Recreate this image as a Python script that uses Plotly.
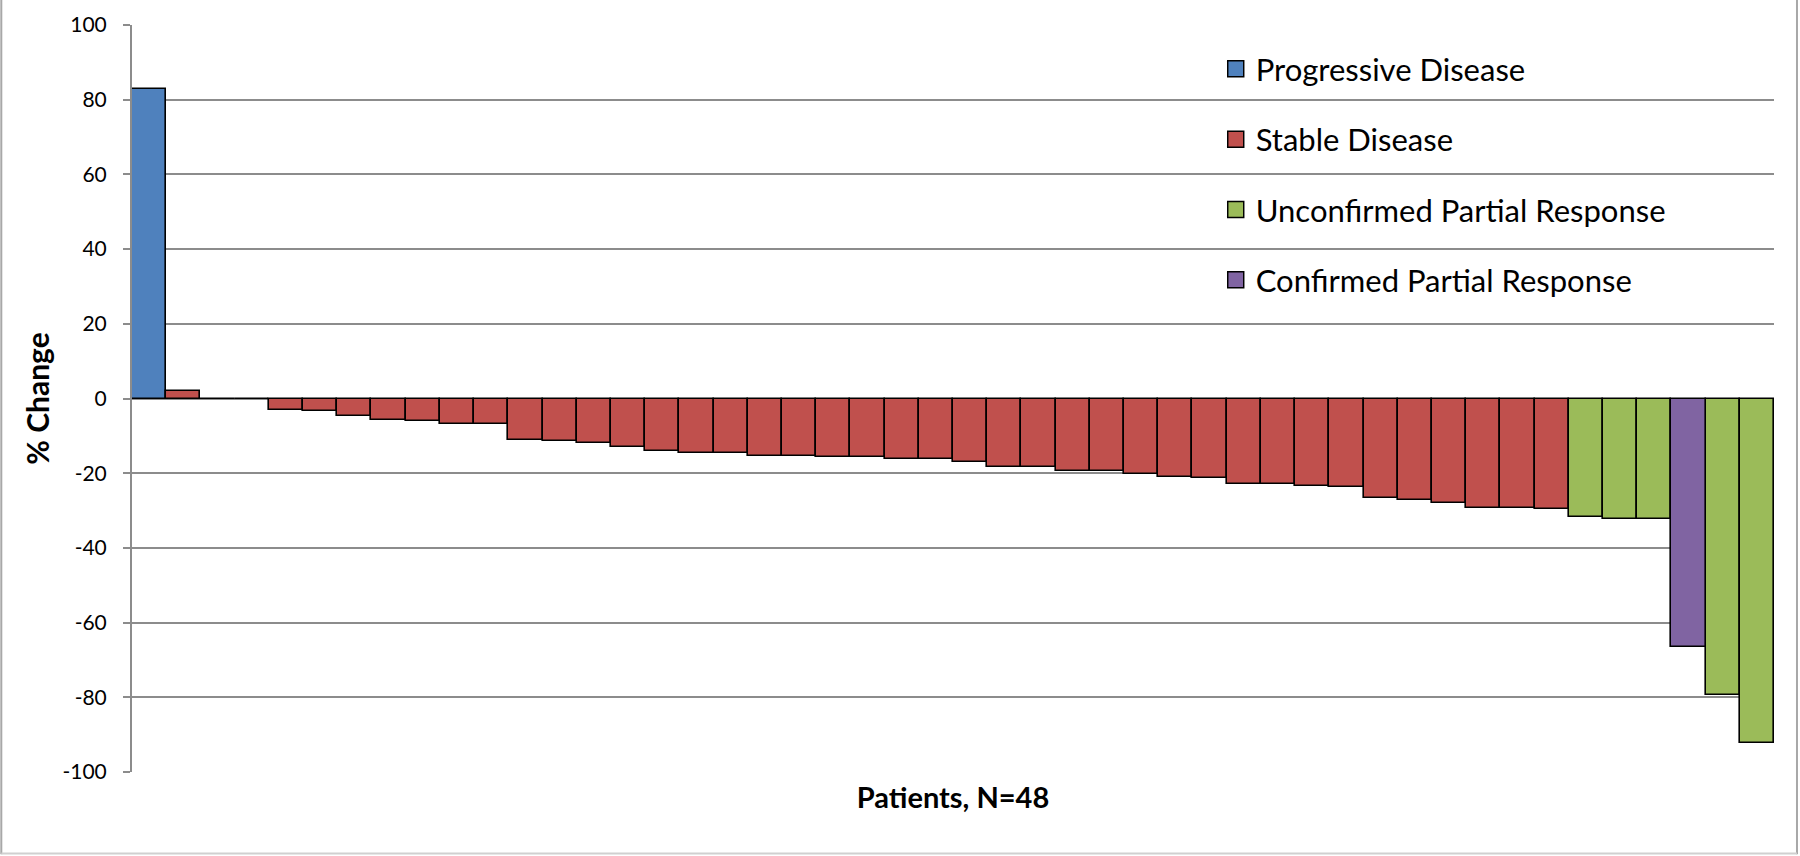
import plotly.graph_objects as go

# ---- data ----
patients = list(range(1, 49))
pct_change = [82.8, 2.0, 0.0, 0.0, -3.1, -3.4, -4.6, -5.7, -6.1, -6.8, -6.8,
              -11.1, -11.5, -11.8, -13.0, -14.0, -14.6, -14.6, -15.3, -15.3,
              -15.6, -15.6, -16.3, -16.3, -16.9, -18.4, -18.4, -19.5, -19.5,
              -20.1, -21.1, -21.2, -22.9, -22.9, -23.3, -23.8, -26.6, -27.1,
              -28.1, -29.4, -29.4, -29.6, -31.7, -32.3, -32.3, -66.6, -79.4, -92.2]
response = (["Progressive Disease"] + ["Stable Disease"] * 41 +
            ["Unconfirmed Partial Response"] * 3 + ["Confirmed Partial Response"] +
            ["Unconfirmed Partial Response"] * 2)
categories = ["Progressive Disease", "Stable Disease",
              "Unconfirmed Partial Response", "Confirmed Partial Response"]
colors = ["#4F81BD", "#C0504D", "#9BBB59", "#8064A2"]
y_ticks = [100, 80, 60, 40, 20, 0, -20, -40, -60, -80, -100]

FONT = "Lato"
fig = go.Figure()
for cat, col in zip(categories, colors):
    xs = [p for p, r in zip(patients, response) if r == cat]
    ys = [v for v, r in zip(pct_change, response) if r == cat]
    fig.add_trace(go.Bar(x=xs, y=ys, name=cat, width=1.0,
                         marker=dict(color=col, line=dict(color="black", width=1.6)),
                         showlegend=False))
for i, (cat, col) in enumerate(zip(categories, colors)):
    fig.add_trace(go.Scatter(x=[None], y=[None], mode="markers", name=cat,
                             legendgroup=str(i),
                             marker=dict(symbol="square", size=16, color=col,
                                         line=dict(color="black", width=1.5))))

fig.update_layout(
    width=1800, height=856,
    margin=dict(l=132, r=26, t=25, b=84),
    paper_bgcolor="white", plot_bgcolor="white",
    barmode="overlay", bargap=0,
    font=dict(family=FONT, color="black"),
    legend=dict(x=0.66, y=0.977, xanchor="left", yanchor="top",
                bgcolor="rgba(0,0,0,0)", font=dict(family=FONT, size=31, color="black"),
                tracegroupgap=27, traceorder="grouped"),
    shapes=[
        dict(type="line", xref="paper", yref="paper", x0=-0.0796, x1=-0.0796, y0=-0.11, y1=1.04,
             line=dict(color="#a8a8a8", width=2)),
        dict(type="line", xref="paper", yref="paper", x0=1.014, x1=1.014, y0=-0.11, y1=1.04,
             line=dict(color="#a8a8a8", width=2)),
        dict(type="line", xref="paper", yref="paper", x0=-0.0796, x1=1.014, y0=-0.109, y1=-0.109,
             line=dict(color="#d0d0d0", width=2)),
    ],
)
fig.update_xaxes(range=[0.5, 48.5], showticklabels=False, ticks="", showgrid=False,
                 zeroline=False, showline=False,
                 title=dict(text="<b>Patients, N=48</b>", font=dict(family=FONT, size=29),
                            standoff=15))
fig.update_yaxes(range=[-100, 100], tickvals=y_ticks, ticktext=[str(t) for t in y_ticks],
                 ticks="outside", ticklen=7, tickcolor="#8c8c8c", tickwidth=2,
                 ticklabelstandoff=12,
                 tickfont=dict(family=FONT, size=21, color="black"),
                 showgrid=True, gridcolor="#8c8c8c", gridwidth=2,
                 zeroline=True, zerolinecolor="#8c8c8c", zerolinewidth=2,
                 showline=True, linecolor="#8c8c8c", linewidth=2,
                 title=dict(text="<b>% Change</b>", font=dict(family=FONT, size=30),
                            standoff=4))

fig.write_html("out.html", config={"displayModeBar": False},
               post_script="document.body.style.margin='0';")
